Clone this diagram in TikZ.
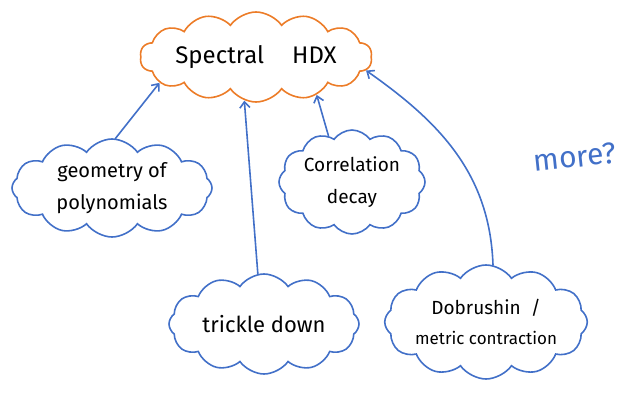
\documentclass[tikz,border=0pt]{standalone}
\usepackage{fontspec}
\setmainfont{Fira Sans}
\usetikzlibrary{shapes.symbols,arrows.meta}
\definecolor{inkblue}{RGB}{66,112,200}
\definecolor{inkorange}{RGB}{236,124,40}
\tikzset{
  idea/.style={cloud, cloud ignores aspect, draw=inkblue, line width=1.6pt,
    cloud puffs=12, cloud puff arc=110, align=center, text=black, inner sep=0pt},
  mainidea/.style={idea, draw=inkorange, cloud puffs=14},
  link/.style={draw=inkblue, line width=1.6pt, line cap=round,
    -{Straight Barb[length=6pt,width=10pt]}},
  x=1pt, y=-1pt
}
\begin{document}
\begin{tikzpicture}
\useasboundingbox (0,0) rectangle (627,394);
\node[mainidea, minimum width=232pt, minimum height=90pt,
      font=\fontsize{24}{28}\selectfont] (hdx) at (256,57) {Spectral\hspace{28pt}HDX};
\node[idea, minimum width=200pt, minimum height=98pt,
      font=\fontsize{20}{32}\selectfont] (geo) at (112,188) {geometry of\\polynomials};
\node[idea, minimum width=146pt, minimum height=104pt,
      font=\fontsize{19}{32}\selectfont] (corr) at (352,182) {Correlation\\decay};
\node[idea, minimum width=190pt, minimum height=100pt,
      font=\fontsize{22}{26}\selectfont] (tri) at (264,324) {trickle down};
\node[idea, minimum width=180pt, minimum height=114pt,
      font=\fontsize{19}{30}\selectfont] (dob) at (486,322)
      {Dobrushin\hspace{10pt}/\\{\fontsize{17}{20}\selectfont metric contraction}};
\node[text=inkblue, font=\fontsize{30}{34}\selectfont, rotate=6] (more) at (575,157) {more?};
\draw[link] (geo.86) -- (hdx.195);
\draw[link] (tri.97) -- (hdx.255);
\draw[link] (corr.117) -- (hdx.328);
\draw[link] (dob.83) to[out=92, in=-35] (hdx.353);
\end{tikzpicture}
\end{document}
